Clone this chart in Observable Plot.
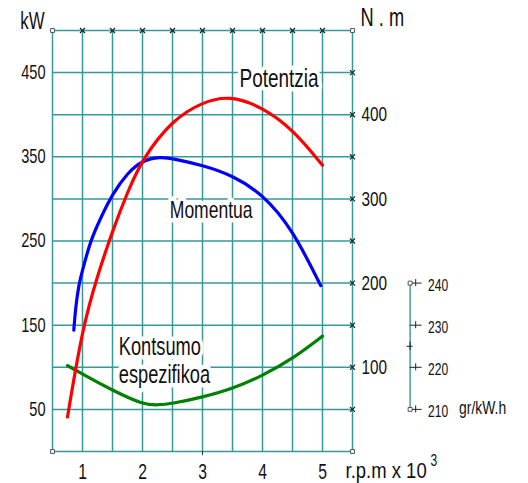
<!DOCTYPE html>
<html>
<head>
<meta charset="utf-8">
<script src="https://cdn.jsdelivr.net/npm/d3@7"></script>
<script src="https://cdn.jsdelivr.net/npm/@observablehq/plot@0.6"></script>
<style>
  html, body { margin: 0; padding: 0; background: #fff; }
  #chart { width: 528px; height: 483px; }
</style>
</head>
<body>
<div id="chart"></div>
<script>
// ---- data ----
// rpm in thousands
const powerRpm   = [0.75, 1.0, 1.25, 1.5, 1.75, 2.0, 2.5, 3.0, 3.45, 4.0, 4.5, 5.0];
const powerKW    = [41, 147, 209, 262, 308, 348, 394, 415, 423, 409, 383, 340];

const torqueRpm  = [0.855, 0.885, 0.94, 1.0, 1.13, 1.3, 1.5, 1.75, 2.0, 2.3, 2.5, 3.0, 3.5, 4.0, 4.5, 4.97];
const torqueNm   = [144, 171, 199, 215, 250, 277, 306, 331, 346, 350, 348, 340, 328, 306, 264, 197];

const consRpm    = [0.75, 1.0, 1.5, 2.0, 2.25, 2.5, 3.0, 3.5, 4.0, 4.5, 5.0];
const consGkWh   = [220.4, 218.4, 214.5, 211.2, 211.0, 211.4, 212.9, 214.9, 218.0, 222.0, 227.4];

const xTicks      = [1, 2, 3, 4, 5];
const bottomTicks = [3];
const kwTicks     = [50, 150, 250, 350, 450];
const nmTicks     = [100, 200, 300, 400];
const gTicks      = [210, 220, 230, 240];
const gMinorTicks = [225];

// gr/kW.h drawn against the shared 0–500 scale: 210 -> 50, 240 -> 200
const gToY = g => 50 + (g - 210) * 5;

const X_MIN = 0.5, X_MAX = 5.5, Y_MAX = 500;
const G_AXIS_X = 6.46;   // location of the small gr/kW.h axis, in rpm units

const FONT = "'Liberation Sans',Arial,sans-serif";
const GRID = "#35999a";
const SX = 0.73;          // horizontal condensing of text (narrow CAD lettering)
const SX_RPM = 0.86;      // the r.p.m label is lettered wider
const RPM_LABEL = "r.p.m x 10";

const power  = powerRpm.map((x, i) => ({x, y: powerKW[i]}));
const torque = torqueRpm.map((x, i) => ({x, y: torqueNm[i]}));
const cons   = consRpm.map((x, i) => ({x, y: gToY(consGkWh[i])}));

const gridX = d3.range(X_MIN, X_MAX + 0.001, 0.5);
const gridY = d3.range(0, Y_MAX + 1, 50);
const rightMarks = d3.range(50, Y_MAX, 50);
const topMarks = d3.range(1, 5.001, 0.5);
const corners = [{x: X_MIN, y: 0}, {x: X_MIN, y: Y_MAX}, {x: X_MAX, y: 0}, {x: X_MAX, y: Y_MAX}];

const chart = Plot.plot({
  width: 528,
  height: 483,
  marginLeft: 52,
  marginRight: 176,
  marginTop: 30,
  marginBottom: 32,
  style: {fontFamily: FONT, background: "#fff", color: "#111", overflow: "visible"},
  x: {type: "linear", domain: [X_MIN, X_MAX], label: null},
  y: {type: "linear", domain: [0, Y_MAX], label: null},
  marks: [
    // grid
    Plot.ruleX(gridX, {stroke: GRID, strokeWidth: 1.5}),
    Plot.ruleY(gridY, {stroke: GRID, strokeWidth: 1.5}),
    // bottom tick
    Plot.ruleX(bottomTicks, {x: d => d, y1: 0, y2: -5, stroke: "#333", strokeWidth: 1}),
    // right & top tick marks (×)
    Plot.dot(rightMarks, {x: X_MAX, y: d => d, symbol: "times", r: 2.4, stroke: "#222", strokeWidth: 1.2}),
    Plot.dot(topMarks, {x: d => d, y: Y_MAX, symbol: "times", r: 2.4, stroke: "#222", strokeWidth: 1.2}),
    Plot.dot(corners, {x: "x", y: "y", symbol: "square", r: 2.2, stroke: "#555", strokeWidth: 1, fill: "white"}),

    // axes
    Plot.axisY(kwTicks, {anchor: "left", tickSize: 0, tickPadding: 7, fontSize: 20, label: null}),
    Plot.axisY(nmTicks, {anchor: "right", tickSize: 0, tickPadding: 9, fontSize: 21, label: null}),
    Plot.axisX(xTicks, {anchor: "bottom", tickSize: 0, tickPadding: 12, fontSize: 21.5, label: null}),

    // small gr/kW.h axis
    Plot.ruleX([G_AXIS_X], {y1: gToY(210), y2: gToY(240), stroke: GRID, strokeWidth: 1.4}),
    Plot.ruleY(gTicks, {y: d => gToY(d), x1: G_AXIS_X, x2: G_AXIS_X + 0.2, stroke: "#222", strokeWidth: 1}),
    Plot.ruleX(gTicks, {x: G_AXIS_X + 0.093, y1: d => gToY(d) - 4.2, y2: d => gToY(d) + 4.2, stroke: "#222", strokeWidth: 1}),
    Plot.ruleY(gMinorTicks, {y: d => gToY(d), x1: G_AXIS_X - 0.05, x2: G_AXIS_X + 0.05, stroke: "#222", strokeWidth: 1}),
    Plot.ruleX(gMinorTicks, {x: G_AXIS_X, y1: d => gToY(d) - 5, y2: d => gToY(d) + 5, stroke: "#222", strokeWidth: 1}),
    Plot.dot([210, 240], {x: G_AXIS_X, y: d => gToY(d), symbol: "square", r: 2.2, stroke: "#555", strokeWidth: 1, fill: "white"}),
    Plot.text(gTicks, {x: G_AXIS_X, y: d => gToY(d), text: d => String(d), dx: 18, dy: 2.5, textAnchor: "start", fontSize: 16.5, fill: "#111"}),
    Plot.text(["gr/kW.h"], {x: G_AXIS_X, y: gToY(210), dx: 49, dy: -1.5, textAnchor: "start", fontSize: 19, fill: "#111"}),

    // curves
    Plot.line(cons,   {x: "x", y: "y", stroke: "#008000", strokeWidth: 3.2, curve: "basis"}),
    Plot.line(torque, {x: "x", y: "y", stroke: "#0000ff", strokeWidth: 3.2, curve: "basis"}),
    Plot.line(power,  {x: "x", y: "y", stroke: "#ff0000", strokeWidth: 3.2, curve: "basis"}),

    // curve labels
    Plot.text(["Potentzia"], {x: 3.617, y: 442.5, textAnchor: "start", fontSize: 26, stroke: "white", strokeWidth: 9, fill: "#111"}),
    Plot.text(["Momentua"], {x: 2.455, y: 286, textAnchor: "start", fontSize: 24, stroke: "white", strokeWidth: 9, fill: "#111"}),
    Plot.text(["Kontsumo\nespezifikoa"], {x: 1.605, y: 109, textAnchor: "start", lineHeight: 1.16, fontSize: 25, stroke: "white", strokeWidth: 9, fill: "#111"}),

    // unit labels
    Plot.text(["kW"], {frameAnchor: "top-left", textAnchor: "end", lineAnchor: "middle", dx: -8, dy: -8.4, fontSize: 23, fill: "#111"}),
    Plot.text(["N . m"], {frameAnchor: "top-right", textAnchor: "start", lineAnchor: "middle", dx: 8, dy: -12.9, fontSize: 25, fill: "#111"}),
    Plot.text([RPM_LABEL], {frameAnchor: "bottom-right", textAnchor: "start", lineAnchor: "middle", dx: -7, dy: 19.5, fontSize: 21.5, fill: "#111"}),
    Plot.text(["3"], {frameAnchor: "bottom-right", textAnchor: "start", lineAnchor: "middle", dx: 78, dy: 9, fontSize: 16.5, fill: "#111"})
  ]
});

// condense each text horizontally around its own anchor point
const isNum = s => s != null && /^-?[\d.]+(e-?\d+)?$/.test(s.trim());
chart.querySelectorAll("text").forEach(t => {
  const sx = t.textContent.trim() === RPM_LABEL ? SX_RPM : SX;
  let tr = t.getAttribute("transform") || "";
  const xa = t.getAttribute("x");
  if (isNum(xa)) {
    tr += ` translate(${+xa},0)`;
    t.removeAttribute("x");
  }
  t.setAttribute("transform", `${tr} scale(${sx},1)`.trim());
});

document.getElementById("chart").appendChild(chart);
</script>
</body>
</html>
